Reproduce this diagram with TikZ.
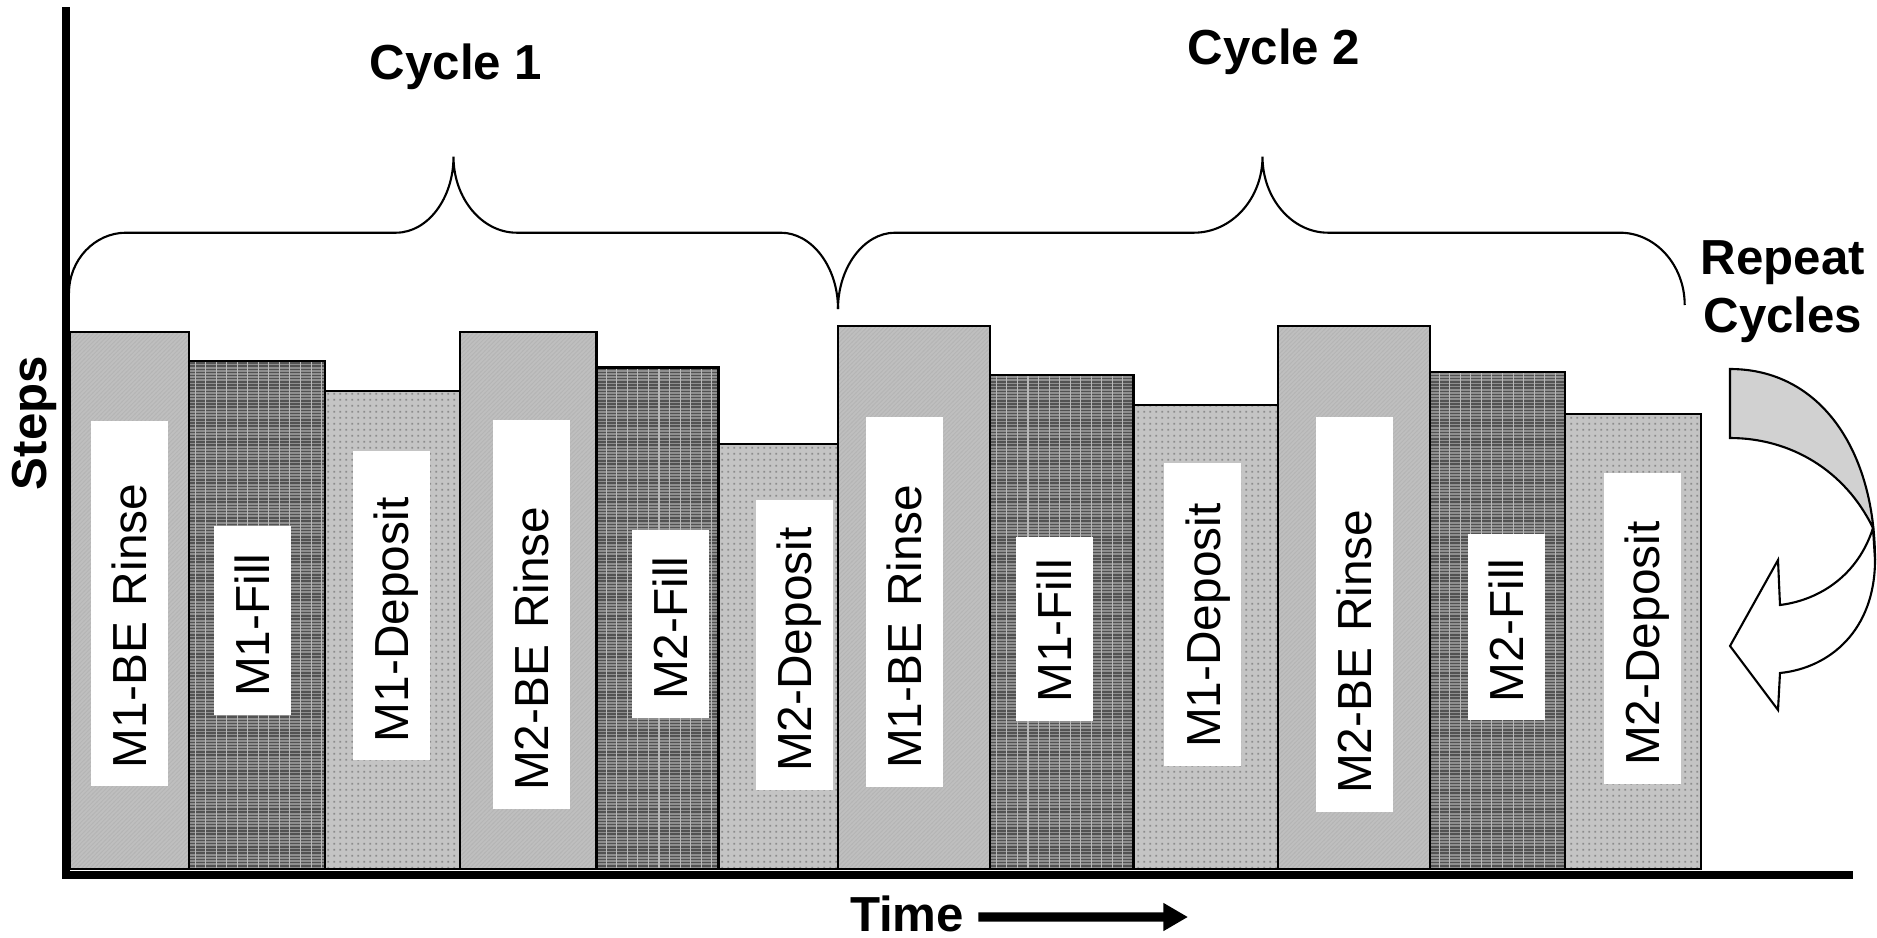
\documentclass[tikz,border=0pt]{standalone}
\usepackage{fontspec}
\setmainfont{Liberation Sans}
\usetikzlibrary{patterns,arrows.meta}

\pgfdeclarepatternformonly{finediag}{\pgfqpoint{-0.2pt}{-0.2pt}}{\pgfqpoint{1.4pt}{1.4pt}}{\pgfqpoint{1.2pt}{1.2pt}}{%
  \pgfsetlinewidth{0.25pt}\pgfpathmoveto{\pgfqpoint{-0.1pt}{-0.1pt}}\pgfpathlineto{\pgfqpoint{1.3pt}{1.3pt}}\pgfusepath{stroke}}
\pgfdeclarepatternformonly{finehlines}{\pgfqpoint{-0.1pt}{-0.1pt}}{\pgfqpoint{1pt}{1pt}}{\pgfqpoint{0.9pt}{0.9pt}}{%
  \pgfsetlinewidth{0.4pt}\pgfpathmoveto{\pgfqpoint{-0.1pt}{0.45pt}}\pgfpathlineto{\pgfqpoint{1pt}{0.45pt}}\pgfusepath{stroke}}
\pgfdeclarepatternformonly{finevlines}{\pgfqpoint{-0.1pt}{-0.1pt}}{\pgfqpoint{3.1pt}{3.1pt}}{\pgfqpoint{3pt}{3pt}}{%
  \pgfsetlinewidth{0.3pt}\pgfpathmoveto{\pgfqpoint{1.5pt}{-0.1pt}}\pgfpathlineto{\pgfqpoint{1.5pt}{3.1pt}}\pgfusepath{stroke}}
\pgfdeclarepatternformonly{finedots}{\pgfqpoint{0pt}{0pt}}{\pgfqpoint{1.6pt}{1.6pt}}{\pgfqpoint{1.6pt}{1.6pt}}{%
  \pgfpathrectangle{\pgfqpoint{0.4pt}{0.4pt}}{\pgfqpoint{0.55pt}{0.55pt}}\pgfusepath{fill}}

\begin{document}
\begin{tikzpicture}[x=0.1mm,y=-0.1mm,
    rinsebar/.style={draw,line width=0.6pt,preaction={fill=gray!50},pattern=finediag,pattern color=gray!58},
    fillbar/.style={draw,line width=0.6pt,preaction={fill=gray!88},preaction={pattern=finehlines,pattern color=black!68},pattern=finevlines,pattern color=gray!55},
    depbar/.style={draw,line width=0.6pt,preaction={fill=gray!46},pattern=finedots,pattern color=black!45},
    steplabel/.style={rotate=90,fill=white,inner xsep=1.8mm,inner ysep=0pt,minimum height=7.7mm,align=left,text depth=0pt,font=\fontsize{13.6}{16}\selectfont},
    cyclebrace/.style={line width=0.6pt},
    boldtext/.style={font=\bfseries\fontsize{14}{16.5}\selectfont,align=center}]
  \useasboundingbox (0,0) rectangle (1877,937);

  \draw[rinsebar] (70,869) rectangle (188.6,332);
  \draw[fillbar] (188.6,869) rectangle (325,361);
  \draw[depbar] (325,869) rectangle (460,391);
  \draw[rinsebar] (460,869) rectangle (596.5,332);
  \draw[fillbar] (596.5,869) rectangle (718.5,367.5);
  \draw[depbar] (718.5,869) rectangle (838,444.3);
  \draw[rinsebar] (838,869) rectangle (990,326);
  \draw[fillbar] (990,869) rectangle (1133.5,374.7);
  \draw[depbar] (1133.5,869) rectangle (1278,405);
  \draw[rinsebar] (1278,869) rectangle (1430,326);
  \draw[fillbar] (1430,869) rectangle (1565,371.7);
  \draw[depbar] (1565,869) rectangle (1701,414.3);

  \node[steplabel,text width=32.9mm] (lab1) at (129.6,603.5) {M1-BE Rinse};
  \node[steplabel,text width=15.3mm] (lab2) at (252.3,620.4) {M1-Fill};
  \node[steplabel,text width=27.3mm] (lab3) at (391.5,605.5) {M1-Deposit};
  \node[steplabel,text width=35.3mm] (lab4) at (531.5,614.4) {M2-BE Rinse};
  \node[steplabel,text width=15.2mm] (lab5) at (670.5,623.9) {M2-Fill};
  \node[steplabel,text width=25.4mm] (lab6) at (794.5,644.9) {M2-Deposit};
  \node[steplabel,text width=33.4mm] (lab7) at (904.6,601.9) {M1-BE Rinse};
  \node[steplabel,text width=14.8mm] (lab8) at (1054.5,628.7) {M1-Fill};
  \node[steplabel,text width=26.7mm] (lab9) at (1202.7,614.4) {M1-Deposit};
  \node[steplabel,text width=35.9mm] (lab10) at (1354.5,614.4) {M2-BE Rinse};
  \node[steplabel,text width=15.0mm] (lab11) at (1506.2,627) {M2-Fill};
  \node[steplabel,text width=27.5mm] (lab12) at (1642.5,628.4) {M2-Deposit};

  \draw[line width=2.4pt,line join=miter] (66,7) -- (66,875) -- (1853,875);

  \draw[cyclebrace] (69,293) .. controls (69,260) and (94.6,232.7) .. (126,232.7) -- (396,232.7)
    .. controls (427.6,232.7) and (453.5,198.5) .. (453.5,156.7) .. controls (453.5,198.5) and (482,232.7) .. (516.7,232.7)
    -- (780.7,232.7) .. controls (812,232.7) and (838,267) .. (838,309);
  \draw[cyclebrace] (838,309) .. controls (838,267.2) and (864,232.7) .. (895,232.7) -- (1194,232.7)
    .. controls (1231.7,232.7) and (1262.5,198.5) .. (1262.5,156.7) .. controls (1262.5,198.5) and (1292,232.7) .. (1328,232.7)
    -- (1620,232.7) .. controls (1655.6,232.7) and (1684.7,265.2) .. (1684.7,305);

  \node[boldtext] (cyc1) at (456,67) {Cycle 1};
  \node[boldtext] (cyc2) at (1274,52) {Cycle 2};
  \node[boldtext] (repeat) at (1783,292) {Repeat\\Cycles};
  \node[boldtext,rotate=90] (steps) at (34,423) {Steps};
  \node[boldtext] (time) at (907,914) {Time};
  \coordinate (timeend) at (1188,917);
  \draw[line width=2.6pt,-{Triangle[length=7pt,width=7.5pt]}] ([xshift=0.2mm,yshift=-0.3mm]time.east) -- (timeend);

  \draw[line width=0.6pt,fill=gray!36] (1730,369) .. controls (1820,369) and (1875,450) .. (1875,560)
    -- (1873,528) .. controls (1845,470) and (1790,438) .. (1730,438) -- cycle;
  \draw[line width=0.6pt,fill=white] (1873,528) .. controls (1858,575) and (1820,600) .. (1780,605)
    -- (1778,560) -- (1730,646) -- (1778,710) -- (1780,673)
    .. controls (1830,668) and (1875,630) .. (1875,560) -- cycle;
\end{tikzpicture}
\end{document}
